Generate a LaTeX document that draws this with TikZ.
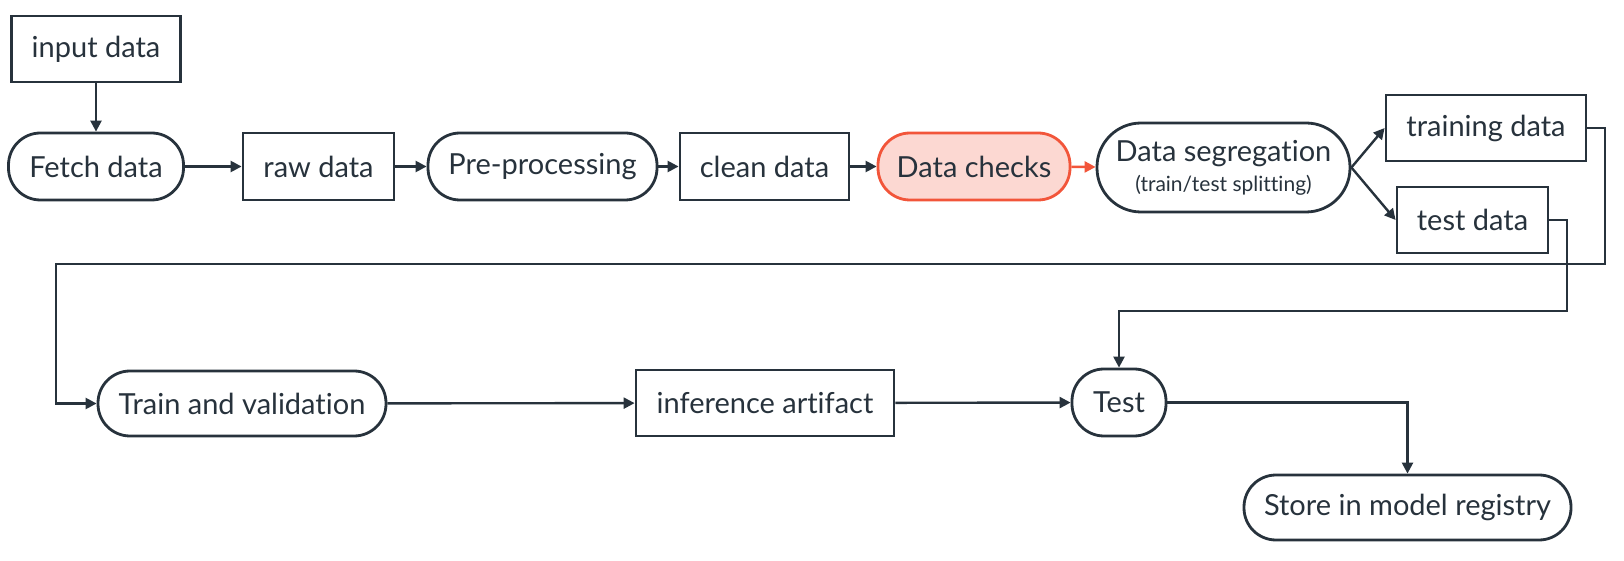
\documentclass[tikz,border=0pt]{standalone}
\usepackage{fontspec}
\setmainfont{Lato}[Ligatures=NoCommon]
\usetikzlibrary{arrows.meta,positioning}
\definecolor{ink}{HTML}{27323C}
\definecolor{alert}{HTML}{F2553A}
\definecolor{alertfill}{HTML}{FCD8D2}
\tikzset{
  box/.style={draw=ink, line width=1.4pt, text=ink, inner sep=0pt, font=\fontsize{14.5}{16}\selectfont},
  stage/.style={box, rounded corners=16pt},
  conn/.style={draw=ink, line width=1.2pt, -{Triangle[length=5.5pt,width=5.5pt]}}
}
\begin{document}
\begin{tikzpicture}[x=0.5pt,y=-0.5pt]
\useasboundingbox (0,0) rectangle (1624,561);
% top row
\node[box, minimum width=84.5pt, minimum height=33pt] (input) at (96,49) {input data};
\node[stage, minimum width=87.5pt, minimum height=33.5pt] (fetch) at (96,166.5) {Fetch data};
\node[box, minimum width=75.5pt, minimum height=33.5pt] (raw) at (318.5,166.5) {raw data};
\node[stage, minimum width=114.5pt, minimum height=33.5pt] (pre) at (542.5,166.5) {Pre-processing};
\node[box, minimum width=84.5pt, minimum height=33.5pt] (clean) at (764.5,166.5) {clean data};
\node[stage, draw=alert, fill=alertfill, minimum width=96pt, minimum height=33.5pt] (checks) at (974,166.5) {Data checks};
\node[stage, rounded corners=22pt, align=center, minimum width=126.5pt, minimum height=44.5pt] (seg) at (1223.5,167.5)
  {Data segregation\\[-1pt]{\fontsize{10.5}{12}\selectfont(train/test splitting)}};
\node[box, minimum width=100pt, minimum height=33pt] (training) at (1486,128) {training data};
\node[box, minimum width=75.5pt, minimum height=33pt] (testd) at (1472.5,220) {test data};
% bottom row
\node[stage, minimum width=144pt, minimum height=32.5pt] (train) at (242,403.5) {Train and validation};
\node[box, minimum width=129pt, minimum height=33pt] (infer) at (765,403) {inference artifact};
\node[stage, minimum width=47pt, minimum height=33.5pt] (test) at (1119,402.5) {Test};
\node[stage, minimum width=163.5pt, minimum height=32.5pt] (store) at (1407.5,507.5) {Store in model registry};
% bends of the long connectors
\coordinate (trainbend) at (1605,264);
\coordinate (trainleft) at (56,403.5);
\coordinate (testbend) at (1567,311);
% draw connectors
\draw[conn] (input) -- (fetch);
\draw[conn] (fetch) -- (raw);
\draw[conn] (raw) -- (pre);
\draw[conn] (pre) -- (clean);
\draw[conn] (clean) -- (checks);
\draw[conn, draw=alert, -{Triangle[length=5.5pt,width=5.5pt,fill=alert]}] (checks) -- (seg);
\draw[conn] (seg.east) -- (training.west);
\draw[conn] (seg.east) -- (testd.west);
\draw[conn] (training.east) -| (trainbend) -| (trainleft) -- (train.west);
\draw[conn] (testd.east) -| (testbend) -| (test.north);
\draw[conn] (train) -- (infer);
\draw[conn] (infer) -- (test);
\draw[conn] (test.east) -| (store.north);
\end{tikzpicture}
\end{document}
